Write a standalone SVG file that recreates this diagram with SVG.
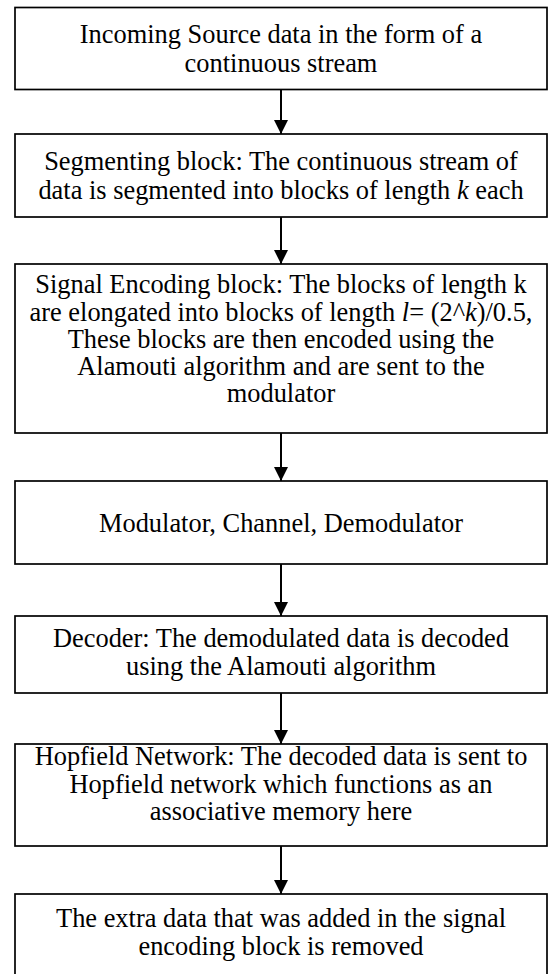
<svg xmlns="http://www.w3.org/2000/svg" width="552" height="974" viewBox="0 0 552 974">
<defs>
<style>
.box{fill:#fff;stroke:#000;stroke-width:1.7}
.t{font-family:"Liberation Serif","Times New Roman",serif;font-size:26.4px;fill:#000;text-anchor:middle}
.c{stroke:#000;stroke-width:2;fill:none}
.i{font-style:italic}
</style>
<marker id="ah" markerWidth="14" markerHeight="14" refX="14" refY="7" orient="auto" markerUnits="userSpaceOnUse">
<path d="M0,0 L14,7 L0,14 Z" fill="#000"/>
</marker>
</defs>
<rect width="552" height="974" fill="#fff"/>
<g id="connectors">
<line class="c" x1="281" y1="89.5" x2="281" y2="134" marker-end="url(#ah)"/>
<line class="c" x1="281" y1="217" x2="281" y2="264" marker-end="url(#ah)"/>
<line class="c" x1="281" y1="433" x2="281" y2="481" marker-end="url(#ah)"/>
<line class="c" x1="281" y1="564" x2="281" y2="616" marker-end="url(#ah)"/>
<line class="c" x1="281" y1="693" x2="281" y2="744" marker-end="url(#ah)"/>
<line class="c" x1="281" y1="846" x2="281" y2="894" marker-end="url(#ah)"/>
</g>
<g id="n1">
<rect class="box" x="15" y="7.5" width="532" height="82"/>
<text class="t" x="281" y="43.3">Incoming Source data in the form of a</text>
<text class="t" x="281" y="71.7">continuous stream</text>
</g>
<g id="n2">
<rect class="box" x="15" y="134" width="532" height="83"/>
<text class="t" x="281" y="170">Segmenting block: The continuous stream of</text>
<text class="t" x="281" y="199">data is segmented into blocks of length <tspan class="i">k</tspan> each</text>
</g>
<g id="n3">
<rect class="box" x="15" y="264" width="532" height="169"/>
<text class="t" x="281" y="293.3">Signal Encoding block: The blocks of length k</text>
<text class="t" x="281" y="321">are elongated into blocks of length <tspan class="i">l</tspan>= (2^<tspan class="i">k</tspan>)/0.5,</text>
<text class="t" x="281" y="348">These blocks are then encoded using the</text>
<text class="t" x="281" y="375">Alamouti algorithm and are sent to the</text>
<text class="t" x="281" y="402">modulator</text>
</g>
<g id="n4">
<rect class="box" x="15" y="481" width="532" height="83"/>
<text class="t" x="281" y="532">Modulator, Channel, Demodulator</text>
</g>
<g id="n5">
<rect class="box" x="15" y="616" width="532" height="77"/>
<text class="t" x="281" y="646.7">Decoder: The demodulated data is decoded</text>
<text class="t" x="281" y="675">using the Alamouti algorithm</text>
</g>
<g id="n6">
<rect class="box" x="15" y="744" width="532" height="102"/>
<text class="t" x="281" y="765">Hopfield Network: The decoded data is sent to</text>
<text class="t" x="281" y="793">Hopfield network which functions as an</text>
<text class="t" x="281" y="820">associative memory here</text>
</g>
<g id="n7">
<rect class="box" x="15" y="894" width="532" height="90"/>
<text class="t" x="281" y="926.7">The extra data that was added in the signal</text>
<text class="t" x="281" y="955">encoding block is removed</text>
</g>
</svg>
